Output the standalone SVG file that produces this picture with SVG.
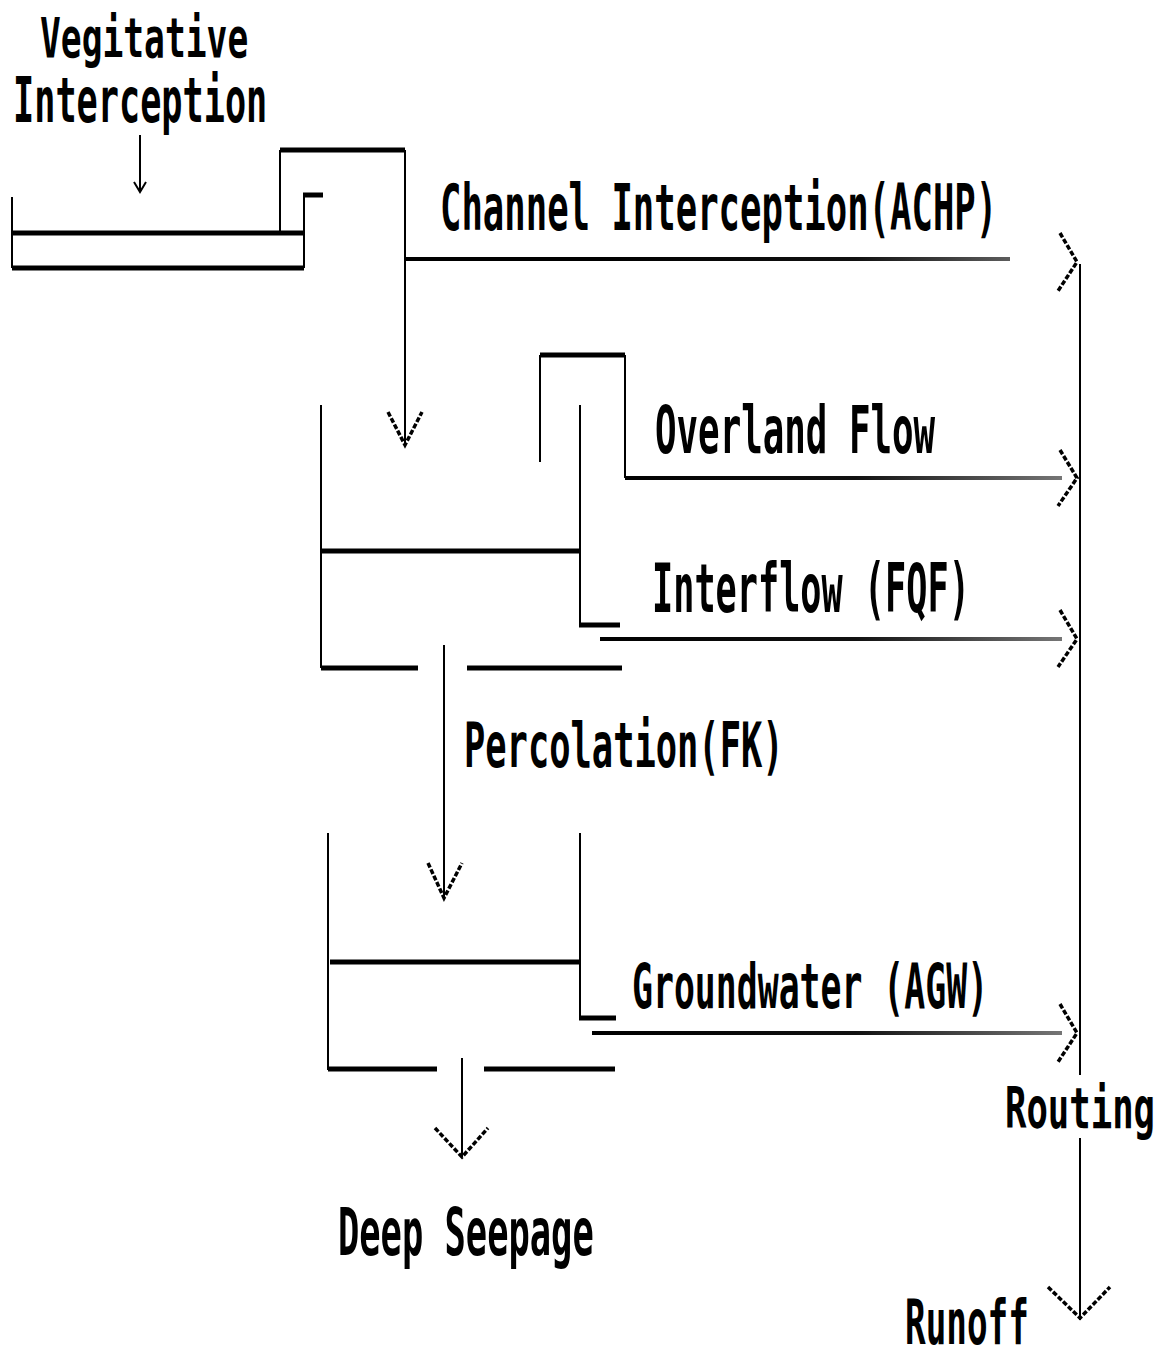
<svg xmlns="http://www.w3.org/2000/svg" width="1164" height="1361" viewBox="0 0 1164 1361">
<defs>
<linearGradient id="fade" gradientUnits="userSpaceOnUse" x1="600" y1="0" x2="1065" y2="0">
<stop offset="0" stop-color="#000"/>
<stop offset="0.55" stop-color="#111"/>
<stop offset="1" stop-color="#777"/>
</linearGradient>
</defs>
<style>
text{font-family:"DejaVu Sans Mono","Liberation Mono",monospace;font-weight:bold;fill:#000}
.thin{stroke:#000;stroke-width:2;fill:none}
.thick{stroke:#000;stroke-width:5;fill:none}
.flow{stroke:url(#fade);stroke-width:4;fill:none}
.head{stroke:#000;stroke-width:3.5;fill:none;stroke-dasharray:5 2}
</style>
<rect width="1164" height="1361" fill="#fff"/>

<g id="vegitative-interception">
<text transform="translate(40,57) scale(1,1.59)" font-size="34.6">Vegitative</text>
<text transform="translate(13,122) scale(1,1.76)" font-size="35.2">Interception</text>
<line class="thin" x1="12" y1="197" x2="12" y2="268"/>
<line class="thick" x1="12" y1="233" x2="304" y2="233"/>
<line class="thick" x1="12" y1="268" x2="304" y2="268"/>
<line class="thin" x1="304" y1="195" x2="304" y2="268"/>
<line class="thick" x1="303" y1="195" x2="323" y2="195"/>
<line class="thin" x1="280" y1="150" x2="280" y2="233"/>
<line class="thick" x1="280" y1="150" x2="405" y2="150"/>
</g>

<g id="channel-interception">
<text transform="translate(440,230) scale(1,1.81)" font-size="35.6">Channel Interception(ACHP)</text>
</g>

<g id="upper-zone">
<line class="thin" x1="321" y1="405" x2="321" y2="668"/>
<line class="thick" x1="321" y1="551" x2="580" y2="551"/>
<line class="thin" x1="580" y1="405" x2="580" y2="625"/>
<line class="thick" x1="579" y1="625" x2="620" y2="625"/>
<line class="thick" x1="321" y1="668" x2="418" y2="668"/>
<line class="thick" x1="467" y1="668" x2="622" y2="668"/>
<line class="thin" x1="540" y1="355" x2="540" y2="462"/>
<line class="thick" x1="540" y1="355" x2="625" y2="355"/>
<line class="thin" x1="625" y1="355" x2="625" y2="478"/>
<text transform="translate(655,453) scale(1,1.84)" font-size="35.8">Overland Flow</text>
<text transform="translate(652,612) scale(1,1.9)" font-size="35.2">Interflow (FQF)</text>
<text transform="translate(464,767) scale(1,1.74)" font-size="35.4">Percolation(FK)</text>
</g>

<g id="lower-zone">
<line class="thin" x1="328" y1="833" x2="328" y2="1070"/>
<line class="thick" x1="330" y1="962" x2="580" y2="962"/>
<line class="thin" x1="580" y1="833" x2="580" y2="1018"/>
<line class="thick" x1="579" y1="1018" x2="616" y2="1018"/>
<line class="thick" x1="328" y1="1069" x2="437" y2="1069"/>
<line class="thick" x1="484" y1="1069" x2="615" y2="1069"/>
<text transform="translate(632,1008) scale(1,1.77)" font-size="34.8">Groundwater (AGW)</text>
</g>

<g id="deep-seepage">
<text transform="translate(338,1255) scale(1,1.86)" font-size="35.4">Deep Seepage</text>
</g>

<g id="routing">
<text transform="translate(1005,1128) scale(1,1.6)" font-size="35.6">Routing</text>
</g>

<g id="runoff">
<text transform="translate(905,1344) scale(1,1.8)" font-size="34.3">Runoff</text>
</g>

<g id="connectors">
<line class="thin" x1="140" y1="135" x2="140" y2="192"/>
<polyline class="thin" points="134,182 140,192 146,182"/>
<line class="thin" x1="405" y1="150" x2="405" y2="445"/>
<polyline class="head" points="388,412 405,445 422,412"/>
<line class="flow" x1="405" y1="259" x2="1010" y2="259"/>
<line class="flow" x1="625" y1="478" x2="1062" y2="478"/>
<line class="flow" x1="600" y1="639" x2="1062" y2="639"/>
<line class="thin" x1="444" y1="645" x2="444" y2="898"/>
<polyline class="head" points="428,863 444,898 462,863"/>
<line class="flow" x1="592" y1="1033" x2="1062" y2="1033"/>
<line class="thin" x1="462" y1="1058" x2="462" y2="1157"/>
<polyline class="head" points="435,1128 462,1157 488,1128"/>
<line class="thin" x1="1080" y1="264" x2="1080" y2="1075"/>
<line class="thin" x1="1080" y1="1138" x2="1080" y2="1320"/>
<polyline class="head" points="1060,233 1077,262 1058,291"/>
<polyline class="head" points="1060,450 1077,478 1058,506"/>
<polyline class="head" points="1060,610 1077,639 1058,667"/>
<polyline class="head" points="1060,1004 1077,1033 1058,1062"/>
<polyline class="head" points="1048,1287 1080,1318 1110,1287"/>
</g>
</svg>
